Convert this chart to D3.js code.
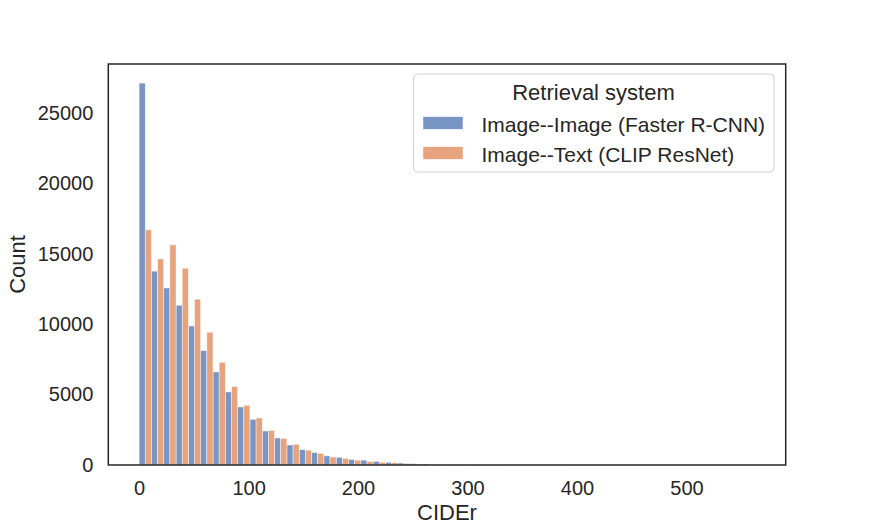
<!DOCTYPE html>
<html>
<head>
<meta charset="utf-8">
<script src="https://cdn.jsdelivr.net/npm/d3@7"></script>
<style>
  body { margin: 0; background: #fff; }
  text { font-family: "Liberation Sans", Arial, sans-serif; fill: #262626; }
</style>
</head>
<body>
<svg></svg>
<script>
// histogram, 50 bins of CIDEr, dodged by retrieval system
let seriesNames = ['Image--Image (Faster R-CNN)', 'Image--Text (CLIP ResNet)']
let binStart = 0
let binWidth = 11.25

let imageImage = [27110, 13760, 12570, 11340, 9870, 8120, 6605, 5185, 4120, 3245,
                  2415, 1918, 1420, 1090, 890, 650, 545, 390, 345, 260,
                  190, 140, 95, 70, 45, 30, 20, 15, 10, 8,
                  6, 5, 4, 3, 3, 2, 2, 2, 1, 1,
                  1, 1, 1, 0, 1, 0, 0, 1, 0, 1]
let imageText = [16690, 14630, 15625, 13970, 11770, 9425, 7290, 5560, 4240, 3340,
                 2460, 1895, 1470, 1055, 830, 570, 470, 345, 250, 200,
                 165, 120, 70, 50, 35, 20, 15, 10, 8, 6,
                 4, 3, 2, 2, 1, 1, 1, 1, 0, 1,
                 0, 0, 0, 0, 0, 0, 0, 0, 0, 0]

let xTicks = [0, 100, 200, 300, 400, 500]
let yTicks = [0, 5000, 10000, 15000, 20000, 25000]

let colors = ['#4c72b0', '#dd8452']

let width = 873
let height = 532
let plotLeft = 108.3
let plotRight = 785.7
let plotTop = 64
let plotBottom = 465

let svg = d3.select('svg')
    .attr('width', width)
    .attr('height', height)

let series = [imageImage, imageText]
let nBins = imageImage.length
let dataMax = binStart + nBins * binWidth
let pad = 0.05 * (dataMax - binStart)

let xScale = d3.scaleLinear()
    .domain([binStart - pad, dataMax + pad])
    .range([plotLeft, plotRight])

let yScale = d3.scaleLinear()
    .domain([0, d3.max([d3.max(imageImage), d3.max(imageText)]) * 1.05])
    .range([plotBottom, plotTop])

// bars
series.forEach((values, s) => {
    svg.append('g')
        .selectAll('rect')
        .data(values)
        .enter()
        .append('rect')
        .attr('x', (d, i) => xScale(binStart + i * binWidth + s * binWidth / 2))
        .attr('width', (d, i) => xScale(binStart + (i + 0.5) * binWidth) - xScale(binStart + i * binWidth))
        .attr('y', (d) => yScale(d))
        .attr('height', (d) => yScale(0) - yScale(d))
        .attr('fill', colors[s])
        .attr('fill-opacity', 0.75)
        .attr('stroke', '#ffffff')
        .attr('stroke-opacity', 0.75)
        .attr('stroke-width', 0.6)
})

// axes, no tick marks (seaborn white style)
let xAxis = d3.axisBottom(xScale).tickValues(xTicks).tickFormat(d3.format('d')).tickSize(0).tickPadding(16)
let yAxis = d3.axisLeft(yScale).tickValues(yTicks).tickFormat(d3.format('d')).tickSize(0).tickPadding(15)

let gx = svg.append('g')
    .attr('transform', 'translate(0, ' + plotBottom + ')')
    .call(xAxis)
gx.select('.domain').remove()
gx.selectAll('text').style('font-size', '20px').attr('fill', '#262626')

let gy = svg.append('g')
    .attr('transform', 'translate(' + plotLeft + ', 0)')
    .call(yAxis)
gy.select('.domain').remove()
gy.selectAll('text').style('font-size', '20px').attr('fill', '#262626')

// frame
svg.append('rect')
    .attr('x', plotLeft)
    .attr('y', plotTop)
    .attr('width', plotRight - plotLeft)
    .attr('height', plotBottom - plotTop)
    .attr('fill', 'none')
    .attr('stroke', '#262626')
    .attr('stroke-width', 1.5)

svg.append('text')
    .attr('x', (plotLeft + plotRight) / 2)
    .attr('y', 520)
    .attr('text-anchor', 'middle')
    .style('font-size', '22px')
    .text('CIDEr')

svg.append('text')
    .attr('transform', 'translate(25, ' + (plotTop + plotBottom) / 2 + ') rotate(-90)')
    .attr('text-anchor', 'middle')
    .style('font-size', '22px')
    .text('Count')

// legend
let legend = svg.append('g')
legend.append('rect')
    .attr('x', 413.5)
    .attr('y', 74)
    .attr('width', 360.5)
    .attr('height', 98)
    .attr('rx', 4)
    .attr('fill', '#ffffff')
    .attr('fill-opacity', 0.8)
    .attr('stroke', '#d0d0d0')
    .attr('stroke-width', 1)

legend.append('text')
    .attr('x', 593.5)
    .attr('y', 100)
    .attr('text-anchor', 'middle')
    .style('font-size', '22px')
    .text('Retrieval system')

seriesNames.forEach((name, s) => {
    legend.append('rect')
        .attr('x', 423)
        .attr('y', 116.7 + s * 30)
        .attr('width', 40)
        .attr('height', 12.6)
        .attr('fill', colors[s])
        .attr('fill-opacity', 0.75)
        .attr('stroke', '#ffffff')
        .attr('stroke-opacity', 0.75)
        .attr('stroke-width', 0.6)
    legend.append('text')
        .attr('x', 481.5)
        .attr('y', 131.7 + s * 30)
        .style('font-size', '21px')
        .text(name)
})
</script>
</body>
</html>
